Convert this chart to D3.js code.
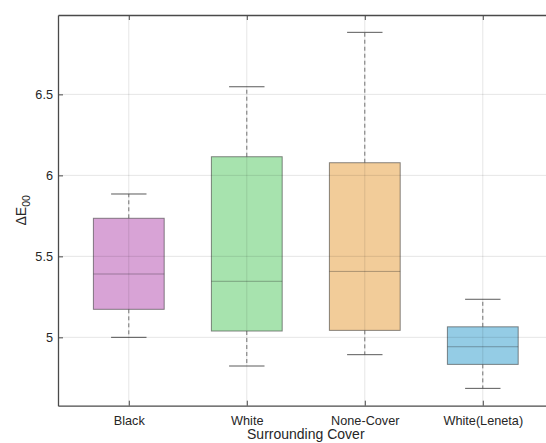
<!DOCTYPE html>
<html>
<head>
<meta charset="utf-8">
<script src="https://cdn.jsdelivr.net/npm/d3@7"></script>
<style>
  body { margin: 0; background: #fff; }
  text { font-family: "Liberation Sans", Arial, sans-serif; fill: #262626; }
</style>
</head>
<body>
<svg id="chart"></svg>
<script>
// Box plot values
const categories = ['Black', 'White', 'None-Cover', 'White(Leneta)'];
const lowerWhisker = [5.00, 4.823, 4.893, 4.685];
const q1 = [5.173, 5.039, 5.043, 4.833];
const medians = [5.391, 5.346, 5.407, 4.942];
const q3 = [5.735, 6.115, 6.078, 5.065];
const upperWhisker = [5.885, 6.547, 6.883, 5.235];
const yTicks = [5, 5.5, 6, 6.5];
const boxColors = ['#D8A3D6', '#A7E3AE', '#F2CC99', '#94CCE5'];

const W = 546, H = 443;
const plotLeft = 58, plotTop = 15, plotBottom = 405.7, plotRight = 553.6;

const svg = d3.select('#chart').attr('width', W).attr('height', H);

const x = d3.scaleLinear().domain([0.4, 4.6]).range([plotLeft, plotRight]);
const y = d3.scaleLinear().domain([4.578, 6.99]).range([plotBottom, plotTop]);

const rows = categories.map((c, i) => ({
    name: c, pos: i + 1, lo: lowerWhisker[i], q1: q1[i], med: medians[i],
    q3: q3[i], hi: upperWhisker[i], color: boxColors[i]
}));

const plot = svg.append('g');

// whiskers (dashed) and caps
plot.selectAll('.whisker-up').data(rows).enter().append('line')
    .attr('x1', d => x(d.pos)).attr('x2', d => x(d.pos))
    .attr('y1', d => y(d.q3)).attr('y2', d => y(d.hi))
    .attr('stroke', '#7a7a7a').attr('stroke-dasharray', '4,3');
plot.selectAll('.whisker-down').data(rows).enter().append('line')
    .attr('x1', d => x(d.pos)).attr('x2', d => x(d.pos))
    .attr('y1', d => y(d.q1)).attr('y2', d => y(d.lo))
    .attr('stroke', '#7a7a7a').attr('stroke-dasharray', '4,3');
['hi', 'lo'].forEach(k => {
    plot.selectAll('.cap-' + k).data(rows).enter().append('line')
        .attr('x1', d => x(d.pos - 0.15)).attr('x2', d => x(d.pos + 0.15))
        .attr('y1', d => y(d[k])).attr('y2', d => y(d[k]))
        .attr('stroke', '#5a5a5a');
});

// boxes
plot.selectAll('.box').data(rows).enter().append('rect')
    .attr('x', d => x(d.pos - 0.3))
    .attr('width', x(1.3) - x(0.7))
    .attr('y', d => y(d.q3))
    .attr('height', d => y(d.q1) - y(d.q3))
    .attr('fill', d => d.color)
    .attr('stroke', 'rgba(60,60,60,0.6)');

plot.selectAll('.median').data(rows).enter().append('line')
    .attr('x1', d => x(d.pos - 0.3)).attr('x2', d => x(d.pos + 0.3))
    .attr('y1', d => y(d.med)).attr('y2', d => y(d.med))
    .attr('stroke', 'rgba(40,40,40,0.35)');

// grid on top, faint
const grid = svg.append('g');
grid.selectAll('.gy').data(yTicks).enter().append('line')
    .attr('x1', plotLeft).attr('x2', plotRight)
    .attr('y1', d => y(d)).attr('y2', d => y(d))
    .attr('stroke', 'rgba(0,0,0,0.1)');
grid.selectAll('.gx').data(rows).enter().append('line')
    .attr('x1', d => x(d.pos)).attr('x2', d => x(d.pos))
    .attr('y1', plotTop).attr('y2', plotBottom)
    .attr('stroke', 'rgba(0,0,0,0.1)');

// axes
const axisColor = '#4a4a4a';
const xAxis = svg.append('g').attr('transform', `translate(0,${plotBottom})`)
    .call(d3.axisBottom(x).tickValues(rows.map(d => d.pos))
        .tickFormat((d, i) => categories[i]).tickSizeInner(-5).tickSizeOuter(0).tickPadding(10));
const xTop = svg.append('g').attr('transform', `translate(0,${plotTop})`)
    .call(d3.axisTop(x).tickValues(rows.map(d => d.pos))
        .tickFormat('').tickSizeInner(-5).tickSizeOuter(0));
const yAxis = svg.append('g').attr('transform', `translate(${plotLeft},0)`)
    .call(d3.axisLeft(y).tickValues(yTicks).tickFormat(d3.format('~g'))
        .tickSizeInner(-5).tickSizeOuter(0).tickPadding(5));

[xAxis, xTop, yAxis].forEach(g => {
    g.select('.domain').attr('stroke', axisColor).attr('stroke-width', 1.3);
    g.selectAll('.tick line').attr('stroke', axisColor);
    g.selectAll('.tick text').attr('font-size', 12.7).attr('fill', '#262626')
        .style('font-family', '"Liberation Sans", Arial, sans-serif');
});

// axis labels
svg.append('text')
    .attr('x', (plotLeft + plotRight) / 2).attr('y', 439)
    .attr('text-anchor', 'middle').attr('font-size', 14)
    .text('Surrounding Cover');

const yl = svg.append('text')
    .attr('transform', `translate(26,${(plotTop + plotBottom) / 2}) rotate(-90)`)
    .attr('text-anchor', 'middle').attr('font-size', 14);
yl.append('tspan').text('ΔE');
yl.append('tspan').attr('font-size', 10.5).attr('dy', 4).text('00');
</script>
</body>
</html>
